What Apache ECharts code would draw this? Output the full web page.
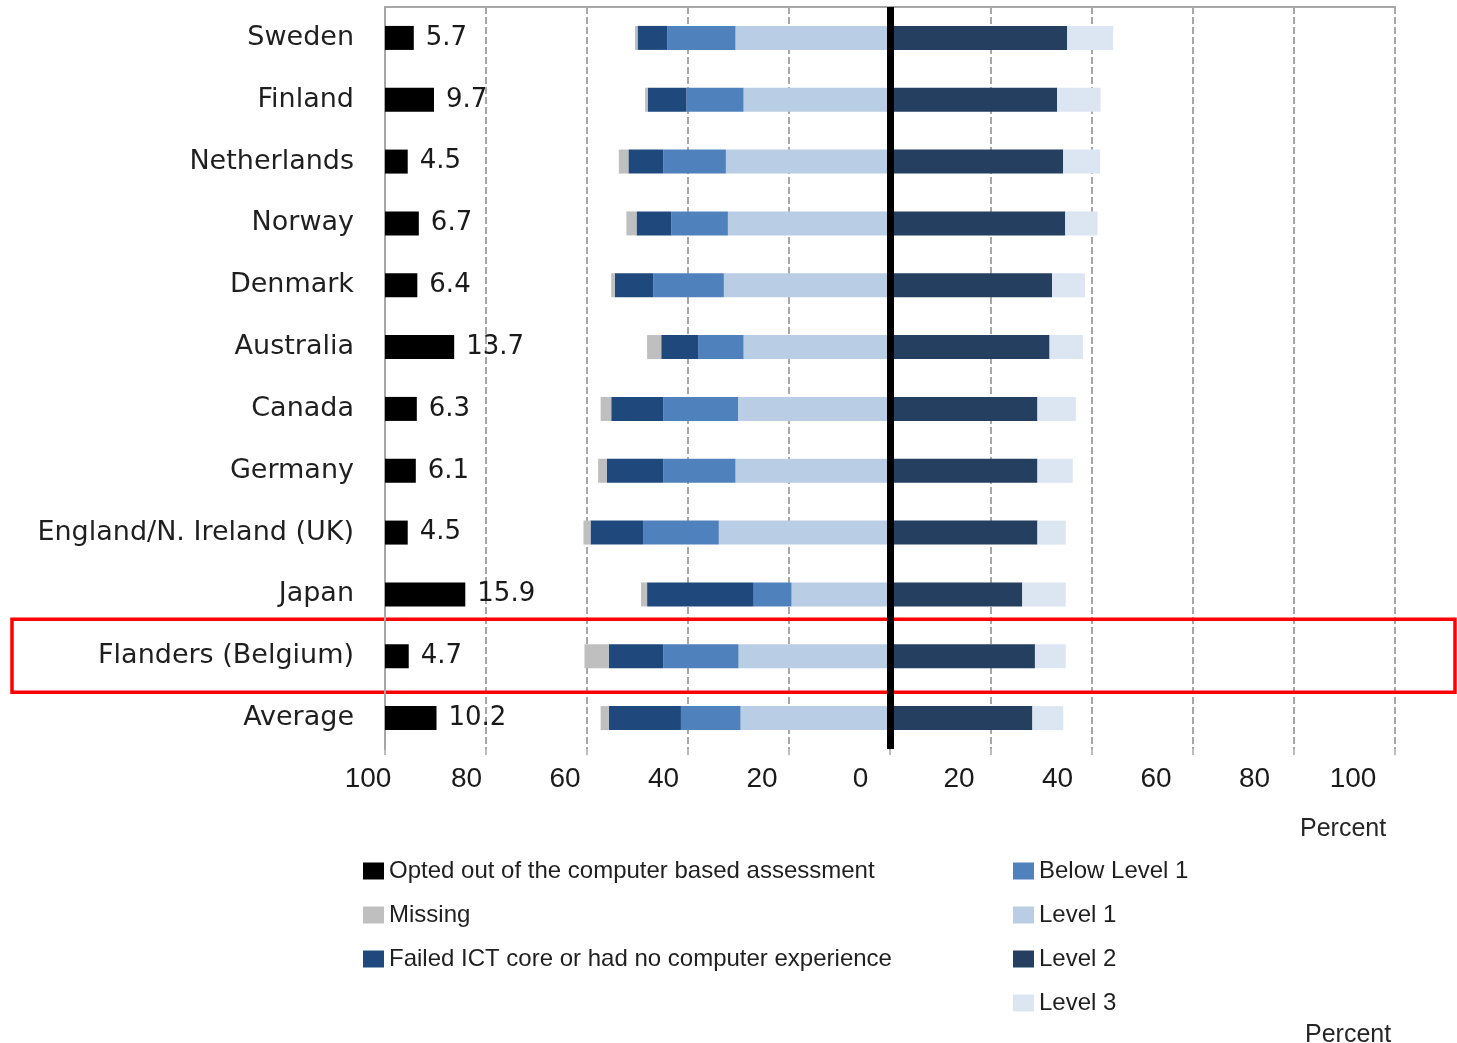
<!DOCTYPE html>
<html>
<head>
<meta charset="utf-8">
<title>Computer based assessment</title>
<script src="https://cdn.jsdelivr.net/npm/echarts@6/dist/echarts.min.js"></script>
<style>
  html, body { margin: 0; padding: 0; background: #fff; }
  #main { width: 1457px; height: 1043px; }
</style>
</head>
<body>
<div id="main"></div>
<script>
// data (percent)
const countries = ['Sweden', 'Finland', 'Netherlands', 'Norway', 'Denmark', 'Australia', 'Canada',
  'Germany', 'England/N. Ireland (UK)', 'Japan', 'Flanders (Belgium)', 'Average'];
const optedOut = [5.7, 9.7, 4.5, 6.7, 6.4, 13.7, 6.3, 6.1, 4.5, 15.9, 4.7, 10.2];
const missing = [0.5, 0.5, 1.9, 2.0, 0.7, 2.8, 2.1, 1.7, 1.4, 1.2, 4.8, 1.6];
const failedICT = [5.9, 7.7, 6.9, 6.9, 7.6, 7.3, 10.3, 11.2, 10.4, 21.1, 10.8, 14.3];
const belowLevel1 = [13.5, 11.3, 12.4, 11.2, 14.0, 9.0, 14.8, 14.3, 15.0, 7.5, 14.9, 11.8];
const level1 = [30.6, 29.0, 32.5, 32.1, 32.9, 29.0, 30.1, 30.6, 33.9, 19.5, 30.0, 29.6];
const level2 = [35.1, 33.1, 34.3, 34.7, 32.1, 31.6, 29.2, 29.2, 29.2, 26.2, 28.7, 28.2];
const level3 = [9.1, 8.6, 7.3, 6.4, 6.5, 6.6, 7.6, 7.0, 5.6, 8.6, 6.1, 6.1];
const highlight = 'Flanders (Belgium)';

const neg = arr => arr.map(v => -v);
const border = '#a6a6a6';

// tick labels in the source sit a little left of their ticks, more so to the right
const tickRich = {};
for (let i = 0; i <= 10; i++) {
  tickRich['t' + i] = { padding: [0, 2 * (17 + 2.5 * i), 0, 0] };
}

let myChart = echarts.init(document.getElementById('main'));

function bar(name, data, color, extra) {
  return Object.assign({
    name: name,
    type: 'bar',
    stack: 'levels',
    xAxisIndex: 0,
    yAxisIndex: 0,
    barWidth: 24,
    barGap: '-100%',
    itemStyle: { color: color },
    data: data,
    silent: true
  }, extra || {});
}

const legendText = { fontSize: 24, color: '#1f1f1f', fontFamily: 'Liberation Sans', lineHeight: 24 };

const option = {
  animation: false,
  textStyle: { fontFamily: 'Liberation Sans' },
  title: [
    { text: 'Percent', left: 1295, top: 812,
      textStyle: { fontSize: 25, fontWeight: 'normal', color: '#262626', fontFamily: 'Liberation Sans' } },
    { text: 'Percent', left: 1300, top: 1018,
      textStyle: { fontSize: 25, fontWeight: 'normal', color: '#262626', fontFamily: 'Liberation Sans' } }
  ],
  grid: { left: 385, right: 62, top: 7, bottom: 294 },
  legend: [
    {
      orient: 'vertical', left: 358, top: 854,
      itemWidth: 21, itemHeight: 17, itemGap: 20, icon: 'rect',
      textStyle: legendText,
      data: ['Opted out of the computer based assessment', 'Missing',
        'Failed ICT core or had no computer experience'],
      selectedMode: false
    },
    {
      orient: 'vertical', left: 1008, top: 854,
      itemWidth: 21, itemHeight: 17, itemGap: 20, icon: 'rect',
      textStyle: legendText,
      data: ['Below Level 1', 'Level 1', 'Level 2', 'Level 3'],
      selectedMode: false
    }
  ],
  xAxis: [
    {
      type: 'value', min: -100, max: 100, interval: 20, position: 'bottom',
      axisLine: { show: false },
      axisTick: { show: true, length: 6, lineStyle: { color: border, width: 1.5 } },
      splitLine: { show: true, lineStyle: { color: '#8a8a8a', width: 1.5, type: [7, 3] } },
      axisLabel: {
        margin: 16, fontSize: 28, color: '#1a1a1a', fontFamily: 'Liberation Sans',
        formatter: (v, i) => '{t' + i + '|' + Math.abs(v) + '}',
        rich: tickRich
      }
    },
    {
      // carries the opted-out bars, which grow from the left edge
      type: 'value', min: 0, max: 200, position: 'top',
      axisLine: { show: true, lineStyle: { color: border, width: 2 } },
      axisTick: { show: false }, axisLabel: { show: false }, splitLine: { show: false }
    }
  ],
  yAxis: [
    {
      type: 'category', inverse: true, data: countries,
      axisLine: { show: true, lineStyle: { color: border, width: 2 } },
      axisTick: { show: false },
      axisLabel: { margin: 31, fontSize: 27, color: '#1f1f1f', fontFamily: 'DejaVu Sans' }
    },
    {
      type: 'category', inverse: true, data: countries, position: 'right',
      axisLine: { show: true, lineStyle: { color: border, width: 2 } },
      axisTick: { show: false }, axisLabel: { show: false }
    }
  ],
  series: [
    bar('Level 1', neg(level1), '#b9cde5', {
      markLine: {
        silent: true, symbol: 'none', label: { show: false },
        lineStyle: { color: '#000', width: 7, type: 'solid' },
        data: [{ xAxis: 0 }]
      }
    }),
    bar('Below Level 1', neg(belowLevel1), '#4f81bd'),
    bar('Failed ICT core or had no computer experience', neg(failedICT), '#1f497d'),
    bar('Missing', neg(missing), '#bfbfbf'),
    bar('Level 2', level2, '#243f60'),
    bar('Level 3', level3, '#dce6f2'),
    bar('Opted out of the computer based assessment', optedOut, '#000000', {
      stack: 'opted', xAxisIndex: 1,
      label: {
        show: true, position: 'right', distance: 12,
        fontSize: 26, color: '#1a1a1a', fontFamily: 'DejaVu Sans'
      }
    })
  ]
};

myChart.setOption(option);

// red frame around the highlighted row
const cy = myChart.convertToPixel({ yAxisIndex: 0 }, highlight);
myChart.setOption({
  graphic: [{
    type: 'rect', silent: true,
    shape: { x: 12, y: cy - 37, width: 1443, height: 73 },
    style: { fill: 'none', stroke: '#ff0000', lineWidth: 3.5 }
  }]
});
</script>
</body>
</html>
